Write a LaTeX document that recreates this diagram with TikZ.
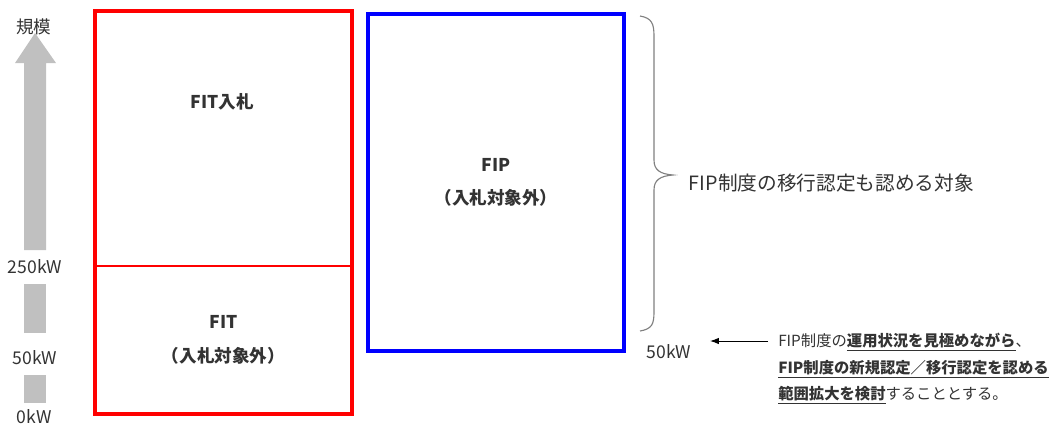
\documentclass[tikz,border=0pt]{standalone}
\usepackage{fontspec}
\setmainfont{Noto Sans CJK JP}
\usepackage{tikz}
\usepackage{xcolor}
\usetikzlibrary{arrows.meta,positioning,fit}

\definecolor{txtgray}{HTML}{333333}
\definecolor{bargray}{HTML}{C0C0C0}

\begin{document}
\begin{tikzpicture}[
  x=0.025cm, y=-0.025cm,
  every node/.style={text=txtgray},
  redbox/.style={draw=red, line width=1.6pt, inner sep=0pt, minimum width=6.375cm},
  bluebox/.style={draw=blue, line width=2.4pt, inner sep=0pt, align=center, font=\fontsize{12.5}{24}\selectfont\bfseries},
  boxlabel/.style={align=center, font=\fontsize{12.5}{24}\selectfont\bfseries},
  scalelabel/.style={font=\fontsize{12.5}{14}\selectfont},
  note/.style={align=left, font=\fontsize{10.9}{18.9}\selectfont, inner sep=0pt},
  arrow/.style={-{Latex[length=2.2mm,width=1.6mm]}, line width=0.7pt, black}
]
\useasboundingbox (0,0) rectangle (1054,430);

% scale bar on the left
\fill[bargray] (24,250) -- (24,63) -- (15,63) -- (35,33) -- (56,63) -- (46,63) -- (46,250) -- cycle;
\fill[bargray] (24,284) rectangle (46,333);
\fill[bargray] (24,375) rectangle (46,403);
\node[scalelabel] (scale) at (34,27) {規模};
\node[scalelabel] (kw250) at (35,267) {250kW};
\node[scalelabel] (kw50) at (35,358) {50kW};
\node[scalelabel] (kw0) at (34,417) {0kW};

% FIT boxes
\node[redbox, minimum height=6.35cm] (fitbid) at (223.5,139) {};
\node[redbox, minimum height=3.675cm, boxlabel] (fit) at (223.5,339.5) {FIT\\（入札対象外）};
\node[boxlabel] (fitbidlabel) at (222,102) {FIT入札};
\node[draw=red, line width=2.8pt, inner sep=0pt, fit=(fitbid)(fit)] (fitall) {};

% FIP box
\node[bluebox, minimum width=6.4cm, minimum height=8.425cm] (fip) at (496,182.5) {FIP\\[-1pt]（入札対象外）};

% brace and its label
\draw[gray, line width=0.8pt] (640,16) .. controls (652,18) and (654,24) .. (654,36)
  -- (654,160) .. controls (654,170) and (660,174) .. (673,175)
  .. controls (660,176) and (654,180) .. (654,190)
  -- (654,312) .. controls (654,324) and (652,329) .. (640,331);
\node[anchor=west, font=\fontsize{14}{16}\selectfont] (target) at (684,183) {FIP制度の移行認定も認める対象};

% 50kW and note
\node[scalelabel] (fip50) at (669,352) {50kW};
\node[note, anchor=north west] (memo) at (778,333)
  {FIP制度の\textbf{\underline{運用状況を見極めながら}}、\\
   \textbf{\underline{FIP制度の新規認定／移行認定を認める}}\\
   \textbf{\underline{範囲拡大を検討}}することとする。};
\coordinate (arrowend) at (710,341);
\draw[arrow] (memo.north west) ++(-10,8) coordinate (arrowstart) (arrowstart) -- (arrowend);
\end{tikzpicture}
\end{document}
